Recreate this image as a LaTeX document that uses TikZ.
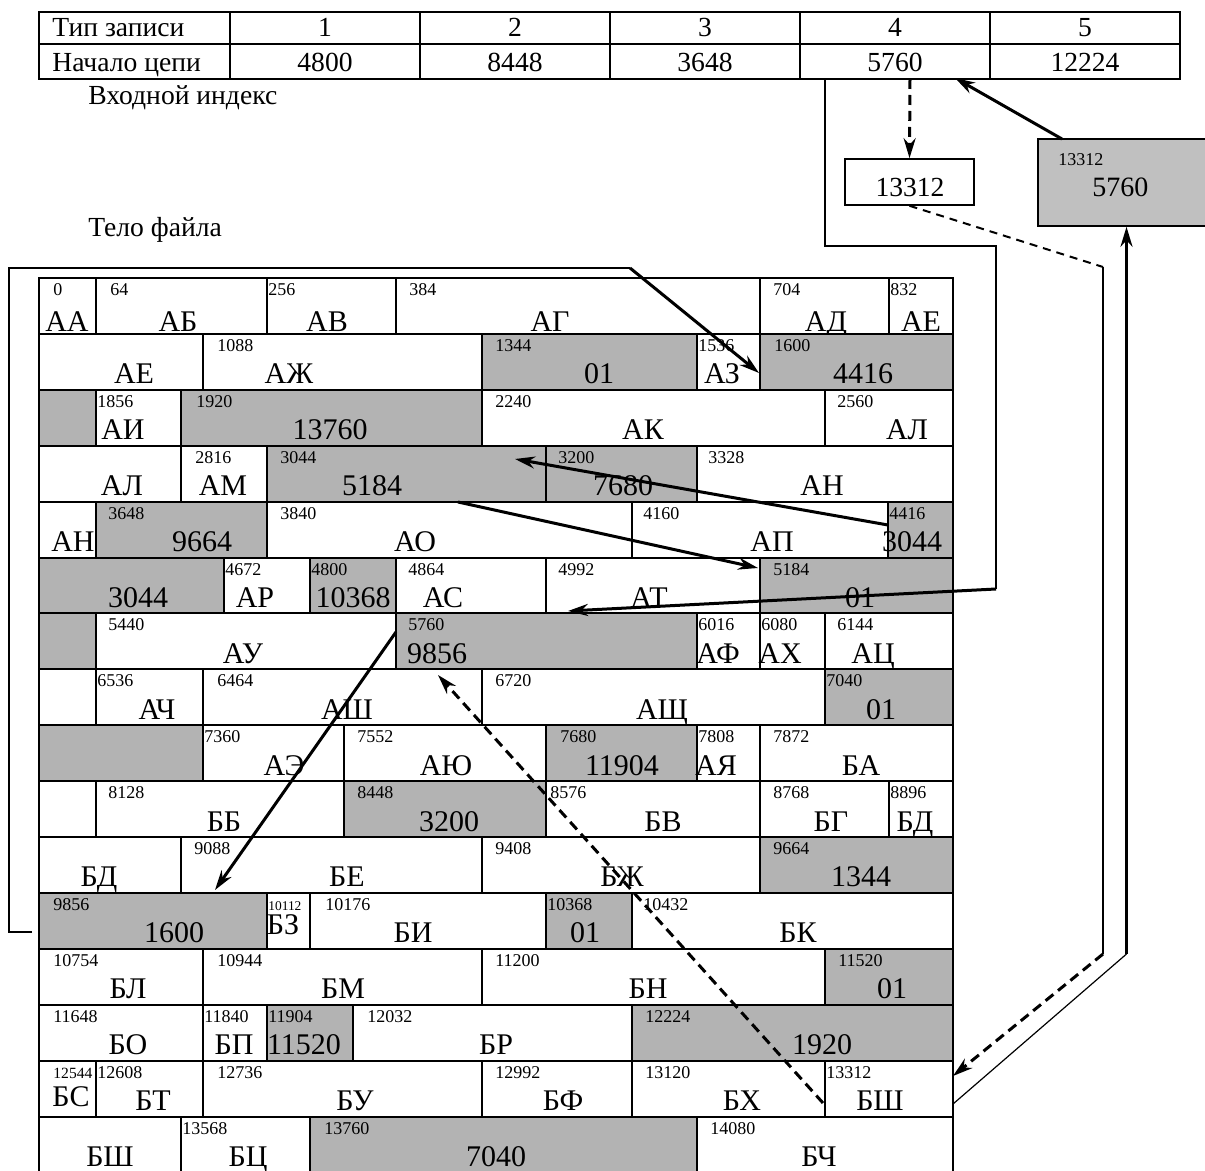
\documentclass[tikz,border=0pt]{standalone}
\usepackage{fontspec}
\setmainfont{Liberation Serif}
\definecolor{blockgray}{RGB}{179, 179, 179}
\definecolor{boxgray}{RGB}{192, 192, 192}
\usetikzlibrary{arrows.meta, positioning, calc}

\begin{document}
\begin{tikzpicture}[x=0.5pt, y=-0.5pt,
    cell/.style={draw=black, line width=1pt},
    addr/.style={font=\fontsize{9}{10}\selectfont, anchor=base west, inner sep=0pt},
    tag/.style={font=\fontsize{15}{17}\selectfont, anchor=base, inner sep=0pt},
    caption/.style={font=\fontsize{13.8}{16}\selectfont, inner sep=0pt},
    link/.style={line width=0.6pt},
    ptr/.style={line width=1.5pt, -{Stealth[length=10pt, width=6pt]}},
    dptr/.style={ptr, dash pattern=on 5pt off 3pt},
    dlink/.style={line width=1pt, dash pattern=on 4pt off 3pt}]
    \useasboundingbox (0,0) rectangle (1205,1171);
    \clip (0,0) rectangle (1205,1171);

    % Input index
    \draw[cell] (39,12) rectangle (1180,79);
    \draw[cell] (39,44) -- (1180,44);
    \foreach \cx in {230,420,610,800,990}
        \draw[cell] (\cx,12) -- (\cx,79);
    \node[caption, anchor=base west] (typlab) at (52,37) {Тип записи};
    \node[caption, anchor=base west] (beglab) at (52,72) {Начало цепи};
    \foreach \v [count=\j] in {4800,8448,3648,5760,12224} {
        \node[caption, anchor=base] (typ\j) at ({135+190*\j},37) {\j};
        \node[caption, anchor=base] (beg\j) at ({135+190*\j},72) {\v};
    }
    \node[caption, anchor=base west] (idxlab) at (88,105) {Входной индекс};
    \node[caption, anchor=base west] (bodylab) at (88,237) {Тело файла};

    % Chain ends
    \node[draw, line width=0.8pt, minimum width=64.5pt, minimum height=23pt, inner sep=0pt] (last) at (909.5,182) {};
    \node[caption, anchor=base] (lastval) at (910,196.7) {13312};
    \node[draw, line width=0.8pt, fill=boxgray, minimum width=88.5pt, minimum height=43.5pt, inner sep=0pt] (head) at (1126.5,182.5) {};
    \node[addr] (headaddr) at (1058,166) {13312};
    \node[font=\fontsize{14}{16}\selectfont, anchor=base west, inner sep=0pt] (headval) at (1092,196.7) {5760};

    % File body: row/left/right/fill/address/offset/label/label x
    \foreach \rw/\xa/\xb/\fc/\ad/\ao/\lab/\lx [count=\i] in {
        % row 1
        1/39/96/white/0/14/АА/67, 1/96/267/white/64/14/АБ/178,
        1/267/396/white/256/1/АВ/327, 1/396/760/white/384/13/АГ/550,
        1/760/889/white/704/13/АД/826, 1/889/953/white/832/1/АЕ/921,
        % row 2
        2/39/203/white//0/АЕ/134, 2/203/482/white/1088/14/АЖ/289,
        2/482/697/blockgray/1344/13/01/599, 2/697/760/white/1536/1/АЗ/722,
        2/760/953/blockgray/1600/14/4416/863,
        % row 3
        3/39/96/blockgray//0//67, 3/96/181/white/1856/1/АИ/123,
        3/181/482/blockgray/1920/15/13760/330, 3/482/825/white/2240/13/АК/643,
        3/825/953/white/2560/12/АЛ/907,
        % row 4
        4/39/181/white//0/АЛ/122, 4/181/267/white/2816/14/АМ/223,
        4/267/546/blockgray/3044/13/5184/372, 4/546/697/blockgray/3200/12/7680/623,
        4/697/953/white/3328/11/АН/822,
        % row 5
        5/39/96/white//0/АН/73, 5/96/267/blockgray/3648/12/9664/202,
        5/267/632/white/3840/13/АО/415, 5/632/888/white/4160/11/АП/772,
        5/888/953/blockgray/4416/1/3044/912,
        % row 6
        6/39/224/blockgray//0/3044/138, 6/224/310/white/4672/1/АР/255,
        6/310/396/blockgray/4800/1/10368/353, 6/396/546/white/4864/12/АС/443,
        6/546/760/white/4992/12/АТ/649, 6/760/953/blockgray/5184/13/01/860,
        % row 7
        7/39/96/blockgray//0//67, 7/96/396/white/5440/12/АУ/243,
        7/396/697/blockgray/5760/12/9856/437, 7/697/760/white/6016/1/АФ/718,
        7/760/825/white/6080/1/АХ/780, 7/825/953/white/6144/12/АЦ/873,
        % row 8
        8/39/96/white//0//67, 8/96/203/white/6536/1/АЧ/157,
        8/203/482/white/6464/14/АШ/347, 8/482/825/white/6720/13/АЩ/662,
        8/825/953/blockgray/7040/1/01/881,
        % row 9
        9/39/203/blockgray//0//121, 9/203/344/white/7360/1/АЭ/284,
        9/344/546/white/7552/13/АЮ/446, 9/546/697/blockgray/7680/14/11904/622,
        9/697/760/white/7808/1/АЯ/716, 9/760/953/white/7872/13/БА/861,
        % row 10
        10/39/96/white//0//67, 10/96/344/white/8128/12/ББ/224,
        10/344/546/blockgray/8448/13/3200/449, 10/546/760/white/8576/4/БВ/663,
        10/760/889/white/8768/13/БГ/831, 10/889/953/white/8896/1/БД/915,
        % row 11
        11/39/181/white//0/БД/99, 11/181/482/white/9088/13/БЕ/347,
        11/482/760/white/9408/13/БЖ/622, 11/760/953/blockgray/9664/13/1344/861,
        % row 12
        12/39/267/blockgray/9856/14/1600/174,
        12/267/310/white/{\fontsize{6.7}{7}\selectfont 10112}/1/{\raisebox{4pt}{БЗ}}/283,
        12/310/546/white/10176/15/БИ/413, 12/546/632/blockgray/10368/1/01/585,
        12/632/953/white/10432/11/БК/798,
        % row 13
        13/39/203/white/10754/14/БЛ/128, 13/203/482/white/10944/14/БМ/343,
        13/482/825/white/11200/13/БН/648, 13/825/953/blockgray/11520/13/01/892,
        % row 14
        14/39/203/white/11648/14/БО/128, 14/203/267/white/11840/1/БП/234,
        14/267/353/blockgray/11904/1/11520/304, 14/353/632/white/12032/14/БР/496,
        14/632/953/blockgray/12224/13/1920/822,
        % row 15
        15/39/96/white/{\fontsize{7.8}{8}\selectfont 12544}/14/{\raisebox{2pt}{БС}}/71,
        15/96/203/white/12608/1/БТ/153, 15/203/482/white/12736/14/БУ/355,
        15/482/632/white/12992/13/БФ/563, 15/632/825/white/13120/13/БХ/742,
        15/825/953/white/13312/1/БШ/880,
        % row 16
        16/39/181/white//0/БШ/110, 16/181/310/white/13568/1/БЦ/248,
        16/310/697/blockgray/13760/14/7040/496, 16/697/953/white/14080/13/БЧ/819%
    } {
        \pgfmathsetmacro{\yt}{278+(\rw-1)*55.9}
        \pgfmathsetmacro{\yb}{\yt+55.9}
        \pgfmathsetmacro{\ys}{\yb-6+4*(\rw==1)}
        \draw[cell, fill=\fc] (\xa,\yt) rectangle (\xb,\yb);
        \node[addr] (addr\i) at (\xa+\ao,\yt+17.5) {\ad};
        \node[tag] (tag\i) at (\lx,\ys) {\lab};
    }

    % Index to chain ends
    \coordinate (idx4) at (910,79);
    \draw[dptr] (idx4) -- (last.north);
    \coordinate (headtail) at (1062,139);
    \coordinate (headtip) at (955,78);
    \draw[ptr] (headtail) -- (headtip);

    % Chain of type 4
    \coordinate (ch0) at (825,79);
    \coordinate (ch1) at (996,246);
    \coordinate (ch2) at (996,589);
    \coordinate (ch3) at (568,611);
    \draw[link] (ch0) |- (ch1) -- (ch2);
    \draw[ptr] (ch2) -- (ch3);

    % Last record to new block
    \coordinate (lk1) at (1103,267);
    \coordinate (lk2) at (1103,954);
    \coordinate (lk3) at (953,1076);
    \draw[dlink] (last.south) -- (lk1);
    \draw[link] (lk1) -- (lk2);
    \draw[dptr] (lk2) -- (lk3);

    % New block to head
    \coordinate (nb0) at (953,1104);
    \coordinate (nb1) at (1126.5,954);
    \draw[link] (nb0) -- (nb1);
    \draw[ptr] (nb1) -- (head.south);

    % Wrap around on the left
    \coordinate (wr0) at (32,932);
    \coordinate (wr1) at (9,268);
    \coordinate (wr2) at (630,268);
    \coordinate (wr3) at (759,373);
    \draw[link] (wr0) -| (wr1) -- (wr2);
    \draw[ptr] (wr2) -- (wr3);

    % Pointers inside the body
    \coordinate (from4416) at (888,525);
    \coordinate (to3044) at (515,459);
    \draw[ptr] (from4416) -- (to3044);
    \coordinate (from3044) at (458,502);
    \coordinate (to5184) at (758,568);
    \draw[ptr] (from3044) -- (to5184);
    \coordinate (from5760) at (396,632);
    \coordinate (to9856) at (215,890);
    \draw[ptr] (from5760) -- (to9856);
    \coordinate (from13312) at (823,1103);
    \coordinate (to5760) at (438,675);
    \draw[dptr] (from13312) -- (to5760);
\end{tikzpicture}
\end{document}
